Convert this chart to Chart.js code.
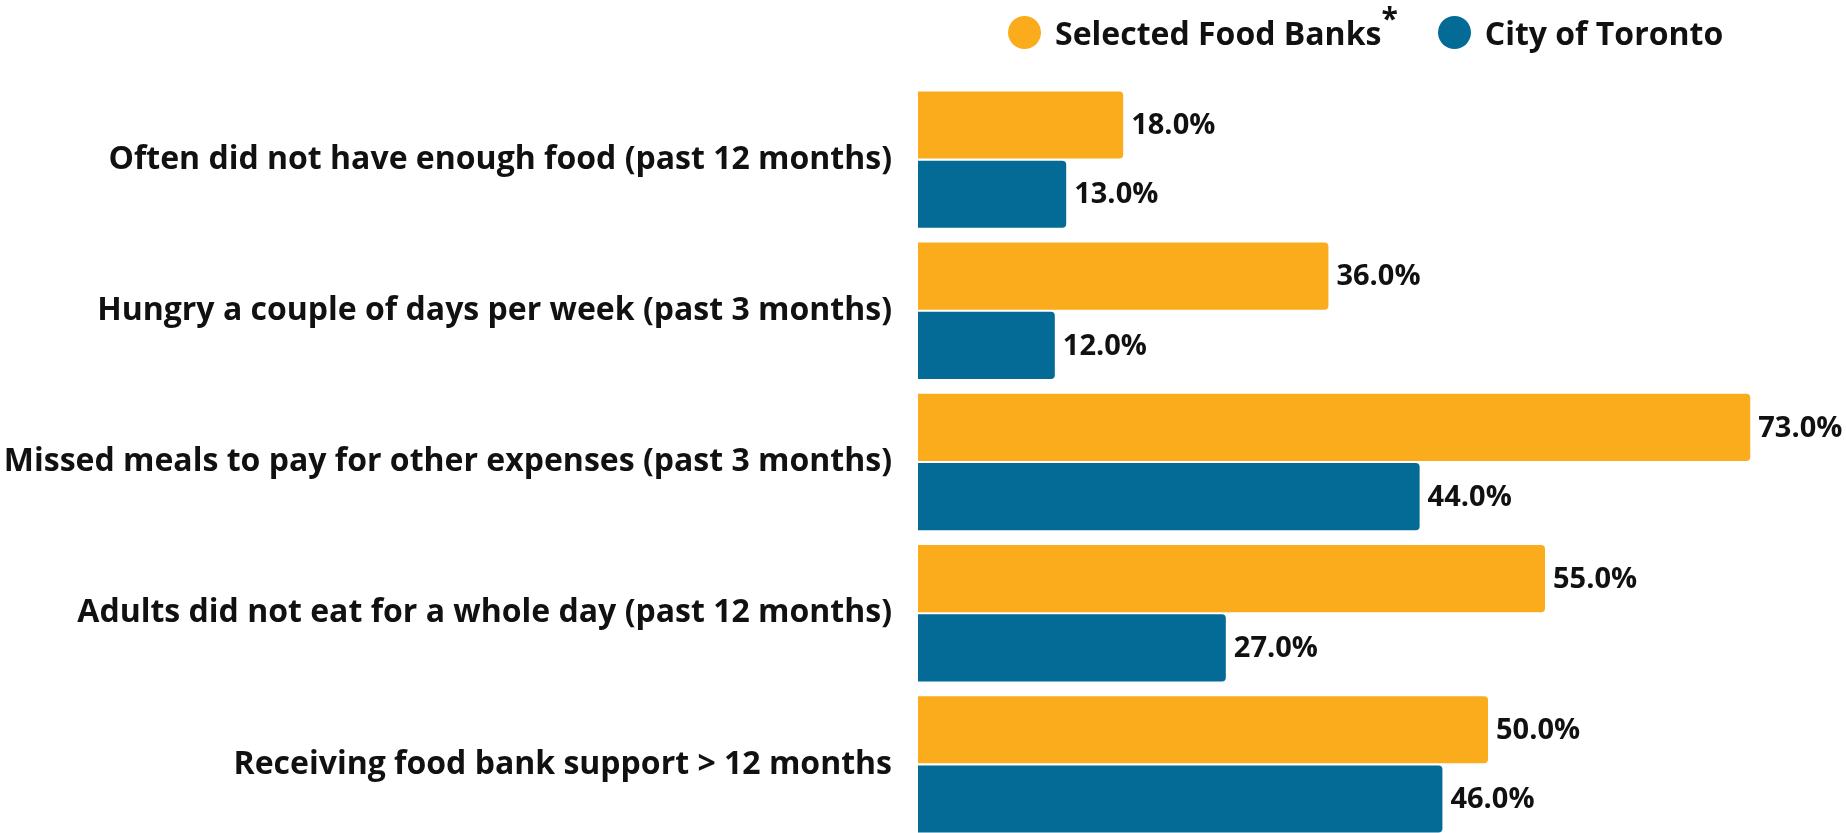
<!DOCTYPE html>
<html>
<head>
<meta charset="utf-8">
<script src="https://cdn.jsdelivr.net/npm/chart.js@4"></script>
<style>
  html, body { margin: 0; padding: 0; background: #fff; overflow: hidden; }
  #wrap { position: relative; width: 1846px; height: 845px; }
  #legend { position: absolute; top: 11px; left: 1008px; display: flex; align-items: center;
            font-family: 'Open Sans', sans-serif; font-weight: 700; font-size: 32px; color: #111; }
  #legend .item { display: flex; align-items: center; margin-right: 40px; }
  #legend .dot { width: 33px; height: 33px; border-radius: 50%; margin-right: 14px; }
  #legend sup { font-size: 30px; line-height: 0; position: relative; top: -4px; }
</style>
</head>
<body>
<div id="wrap">
  <div id="legend"></div>
  <canvas id="chart" width="1846" height="845"></canvas>
</div>
<script>
const categories = [
  'Often did not have enough food (past 12 months)',
  'Hungry a couple of days per week (past 3 months)',
  'Missed meals to pay for other expenses (past 3 months)',
  'Adults did not eat for a whole day (past 12 months)',
  'Receiving food bank support > 12 months'
];
const seriesNames = ['Selected Food Banks', 'City of Toronto'];
const foodBankValues = [18, 36, 73, 55, 50];
const torontoValues = [13, 12, 44, 27, 46];
const seriesColors = ['#FBAC1C', '#036B95'];

// value labels to the right of each bar
const valueLabels = {
    id: 'valueLabels',
    afterDatasetsDraw(chart) {
        const ctx = chart.ctx;
        ctx.save();
        ctx.font = '700 29px "Open Sans"';
        ctx.fillStyle = '#111';
        ctx.textAlign = 'left';
        ctx.textBaseline = 'middle';
        chart.data.datasets.forEach((ds, i) => {
            chart.getDatasetMeta(i).data.forEach((bar, j) => {
                ctx.fillText(ds.data[j].toFixed(1) + '%', bar.x + 8, bar.y + 1);
            });
        });
        ctx.restore();
    }
};

const chart = new Chart(document.getElementById('chart'), {
    type: 'bar',
    data: {
        labels: categories,
        datasets: [
            { label: seriesNames[0], data: foodBankValues, backgroundColor: seriesColors[0] },
            { label: seriesNames[1], data: torontoValues, backgroundColor: seriesColors[1] }
        ]
    },
    options: {
        indexAxis: 'y',
        responsive: false,
        animation: false,
        categoryPercentage: 0.916,
        barPercentage: 0.97,
        borderRadius: { topRight: 4, bottomRight: 4 },
        borderSkipped: 'start',
        layout: { padding: { top: 84, right: 0, bottom: 5, left: 0 } },
        plugins: {
            legend: { display: false },
            tooltip: { enabled: false }
        },
        scales: {
            x: { display: false, min: 0, max: 81.4 },
            y: {
                grid: { display: false, drawTicks: false },
                border: { display: false },
                ticks: {
                    padding: 26,
                    color: '#111',
                    font: { family: 'Open Sans', size: 32, weight: '700' }
                },
                afterFit(scale) {
                    scale.width = 918;
                    scale.paddingTop = 0;
                    scale.paddingBottom = 0;
                }
            }
        }
    },
    plugins: [valueLabels]
});

// html legend
const legendEl = document.getElementById('legend');
chart.data.datasets.forEach((ds, i) => {
    const item = document.createElement('div');
    item.className = 'item';
    item.innerHTML = `<span class="dot" style="background:${ds.backgroundColor}"></span>` +
        `<span>${ds.label}${i === 0 ? '<sup>*</sup>' : ''}</span>`;
    legendEl.appendChild(item);
});
</script>
</body>
</html>
